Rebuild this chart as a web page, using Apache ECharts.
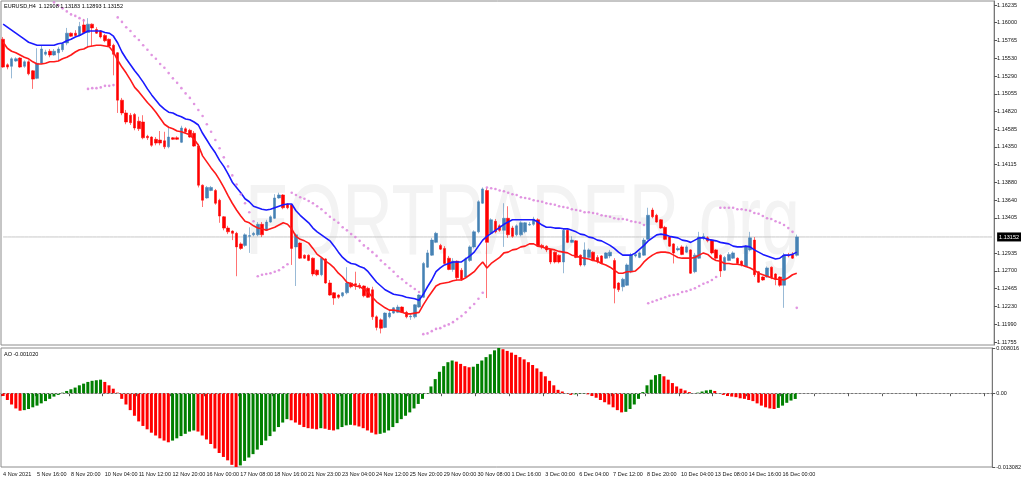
<!DOCTYPE html>
<html>
<head>
<meta charset="utf-8">
<script src="https://cdn.jsdelivr.net/npm/echarts@6.0.0/dist/echarts.min.js"></script>
<style>
html,body{margin:0;padding:0;background:#fff;}
#chart{width:1024px;height:479px;}
</style>
</head>
<body>
<div id="chart"></div>
<script>
// ---- tick labels ----
const timeLabels = ["4 Nov 2021","5 Nov 16:00","8 Nov 20:00","10 Nov 04:00","11 Nov 12:00","12 Nov 20:00","16 Nov 00:00","17 Nov 08:00","18 Nov 16:00","21 Nov 23:00","23 Nov 04:00","24 Nov 12:00","25 Nov 20:00","29 Nov 00:00","30 Nov 08:00","1 Dec 16:00","3 Dec 00:00","6 Dec 04:00","7 Dec 12:00","8 Dec 20:00","10 Dec 04:00","13 Dec 08:00","14 Dec 16:00","16 Dec 00:00"];
const priceTicks = [1.16235,1.16000,1.15765,1.15530,1.15290,1.15055,1.14820,1.14585,1.14350,1.14115,1.13880,1.13640,1.13405,1.12935,1.12700,1.12465,1.12230,1.11990,1.11755];
const aoTicks = [0.008016, 0, -0.013082];

// ---- candles (H4 EURUSD) ----
const opens = [1.1578,1.1544,1.1542,1.1549,1.1553,1.1542,1.1548,1.1536,1.1526,1.1546,1.1558,1.1562,1.1557,1.1560,1.1564,1.1573,1.1586,1.1586,1.1583,1.1597,
1.1587,1.1598,1.1591,1.1589,1.1583,1.1578,1.1570,1.1560,1.1497,1.1480,1.1477,1.1478,1.1469,1.1468,1.1449,1.1448,1.1445,1.1444,1.1443,1.1435,
1.1447,1.1447,1.1441,1.1459,1.1457,1.1453,1.1436,1.1384,1.1367,1.1377,1.1377,1.1364,1.1342,1.1327,1.1323,1.1320,1.1306,1.1304,1.1316,1.1318,
1.1318,1.1332,1.1324,1.1335,1.1340,1.1367,1.1371,1.1359,1.1358,1.1302,1.1307,1.1291,1.1291,1.1287,1.1271,1.1265,1.1286,1.1254,1.1241,1.1238,
1.1237,1.1241,1.1254,1.1253,1.1251,1.1250,1.1247,1.1245,1.1209,1.1205,1.1195,1.1209,1.1214,1.1215,1.1222,1.1215,1.1209,1.1209,1.1222,1.1235,
1.1275,1.1291,1.1308,1.1304,1.1300,1.1287,1.1272,1.1283,1.1271,1.1262,1.1284,1.1302,1.1322,1.1360,1.1377,1.1320,1.1336,1.1330,1.1324,1.1340,
1.1327,1.1318,1.1318,1.1322,1.1331,1.1332,1.1338,1.1304,1.1303,1.1298,1.1295,1.1291,1.1282,1.1324,1.1308,1.1310,1.1291,1.1278,1.1288,1.1295,
1.1288,1.1290,1.1287,1.1290,1.1284,1.1254,1.1249,1.1251,1.1269,1.1290,1.1288,1.1291,1.1312,1.1351,1.1344,1.1338,1.1328,1.1315,1.1306,1.1298,
1.1302,1.1295,1.1298,1.1269,1.1287,1.1314,1.1314,1.1311,1.1298,1.1291,1.1271,1.1284,1.1287,1.1287,1.1283,1.1276,1.1298,1.1311,1.1269,1.1262,
1.1262,1.1275,1.1266,1.1262,1.1251,1.1291,1.1292,1.12908];
const closes = [1.1541,1.1541,1.1552,1.1552,1.1541,1.1548,1.1532,1.1525,1.1546,1.1565,1.1561,1.1557,1.1562,1.1565,1.1572,1.1586,1.1582,1.1583,1.1595,1.1587,
1.1598,1.1593,1.1586,1.1581,1.1576,1.1569,1.1558,1.1497,1.1480,1.1468,1.1467,1.1460,1.1459,1.1447,1.1447,1.1437,1.1440,1.1440,1.1435,1.1448,
1.1445,1.1445,1.1460,1.1455,1.1448,1.1436,1.1384,1.1364,1.1381,1.1381,1.1360,1.1343,1.1327,1.1322,1.1320,1.1302,1.1300,1.1318,1.1317,1.1320,
1.1332,1.1318,1.1335,1.1342,1.1367,1.1371,1.1354,1.1354,1.1300,1.1318,1.1287,1.1287,1.1284,1.1266,1.1265,1.1287,1.1254,1.1238,1.1234,1.1235,
1.1241,1.1254,1.1249,1.1251,1.1249,1.1237,1.1235,1.1209,1.1195,1.1194,1.1214,1.1214,1.1221,1.1222,1.1215,1.1209,1.1210,1.1225,1.1238,1.1280,
1.1294,1.1311,1.1320,1.1299,1.1280,1.1272,1.1283,1.1261,1.1259,1.1286,1.1302,1.1322,1.1362,1.1379,1.1308,1.1338,1.1322,1.1324,1.1340,1.1318,
1.1316,1.1330,1.1334,1.1334,1.1332,1.1339,1.1303,1.1302,1.1298,1.1282,1.1282,1.1282,1.1324,1.1308,1.1311,1.1288,1.1278,1.1298,1.1298,1.1284,
1.1282,1.1280,1.1294,1.1295,1.1247,1.1245,1.1259,1.1278,1.1291,1.1292,1.1294,1.1311,1.1344,1.1342,1.1335,1.1327,1.1312,1.1303,1.1294,1.1300,
1.1292,1.1302,1.1267,1.1291,1.1315,1.1316,1.1310,1.1294,1.1287,1.1270,1.1288,1.1292,1.1294,1.1280,1.1278,1.1302,1.1314,1.1265,1.1255,1.1258,
1.1274,1.1261,1.1259,1.1251,1.1291,1.1290,1.1287,1.13152];
const lows = [1.1540,1.1538,1.1526,1.1548,1.1540,1.1540,1.1530,1.1512,1.1525,1.1545,1.1556,1.1554,1.1556,1.1549,1.1561,1.1570,1.1581,1.1582,1.1582,1.1585,
1.1568,1.1569,1.1585,1.1579,1.1574,1.1568,1.1530,1.1480,1.1477,1.1465,1.1464,1.1457,1.1456,1.1445,1.1444,1.1435,1.1437,1.1437,1.1432,1.1433,
1.1444,1.1444,1.1440,1.1453,1.1447,1.1435,1.1381,1.1355,1.1366,1.1376,1.1358,1.1334,1.1324,1.1319,1.1311,1.1263,1.1298,1.1302,1.1294,1.1316,
1.1316,1.1315,1.1323,1.1334,1.1339,1.1366,1.1352,1.1352,1.1278,1.1250,1.1286,1.1286,1.1283,1.1263,1.1263,1.1263,1.1253,1.1237,1.1225,1.1233,
1.1235,1.1239,1.1247,1.1245,1.1246,1.1235,1.1234,1.1205,1.1191,1.1187,1.1194,1.1207,1.1213,1.1214,1.1214,1.1207,1.1205,1.1207,1.1221,1.1234,
1.1274,1.1290,1.1307,1.1298,1.1279,1.1271,1.1269,1.1258,1.1257,1.1261,1.1282,1.1300,1.1320,1.1359,1.1234,1.1319,1.1320,1.1322,1.1302,1.1314,
1.1314,1.1316,1.1316,1.1320,1.1330,1.1330,1.1302,1.1299,1.1295,1.1279,1.1280,1.1280,1.1267,1.1307,1.1307,1.1287,1.1276,1.1276,1.1287,1.1283,
1.1280,1.1279,1.1286,1.1287,1.1227,1.1242,1.1243,1.1250,1.1267,1.1288,1.1287,1.1290,1.1311,1.1340,1.1334,1.1326,1.1311,1.1302,1.1280,1.1296,
1.1291,1.1294,1.1266,1.1267,1.1286,1.1311,1.1308,1.1292,1.1286,1.1262,1.1270,1.1283,1.1286,1.1279,1.1276,1.1275,1.1296,1.1262,1.1254,1.1257,
1.1261,1.1259,1.1251,1.1249,1.1221,1.1288,1.1286,1.12893];
const highs = [1.1581,1.1546,1.1554,1.1554,1.1554,1.1550,1.1550,1.1537,1.1566,1.1569,1.1564,1.1565,1.1565,1.1568,1.1574,1.1593,1.1587,1.1590,1.1601,1.1605,
1.1606,1.1599,1.1594,1.1590,1.1585,1.1579,1.1572,1.1561,1.1500,1.1484,1.1480,1.1480,1.1475,1.1477,1.1451,1.1449,1.1448,1.1456,1.1455,1.1460,
1.1448,1.1449,1.1463,1.1461,1.1459,1.1456,1.1439,1.1385,1.1383,1.1383,1.1379,1.1366,1.1343,1.1330,1.1324,1.1322,1.1308,1.1320,1.1328,1.1322,
1.1335,1.1335,1.1338,1.1344,1.1372,1.1374,1.1372,1.1360,1.1359,1.1320,1.1308,1.1292,1.1292,1.1288,1.1272,1.1288,1.1287,1.1258,1.1242,1.1239,
1.1242,1.1275,1.1255,1.1269,1.1254,1.1251,1.1249,1.1249,1.1211,1.1207,1.1215,1.1217,1.1222,1.1225,1.1223,1.1217,1.1213,1.1226,1.1239,1.1282,
1.1298,1.1314,1.1322,1.1306,1.1303,1.1290,1.1287,1.1284,1.1274,1.1288,1.1304,1.1324,1.1364,1.1381,1.1380,1.1340,1.1339,1.1332,1.1360,1.1356,
1.1330,1.1332,1.1336,1.1335,1.1335,1.1342,1.1340,1.1306,1.1304,1.1299,1.1296,1.1292,1.1327,1.1326,1.1316,1.1311,1.1292,1.1308,1.1300,1.1296,
1.1291,1.1291,1.1295,1.1298,1.1287,1.1255,1.1261,1.1280,1.1294,1.1295,1.1296,1.1314,1.1354,1.1354,1.1346,1.1339,1.1330,1.1316,1.1307,1.1303,
1.1304,1.1304,1.1299,1.1294,1.1322,1.1320,1.1316,1.1312,1.1299,1.1292,1.1290,1.1295,1.1296,1.1288,1.1284,1.1304,1.1322,1.1315,1.1270,1.1263,
1.1276,1.1276,1.1267,1.1263,1.1294,1.1294,1.1295,1.13183];

// ---- moving averages ----
const maBlue = [1.1598,1.1594,1.1590,1.1586,1.1582,1.1578,1.1574,1.1572,1.1570,1.1570,1.1570,1.1570,1.1570,1.1572,1.1573,1.1576,1.1578,1.1581,1.1583,1.1586,
1.1589,1.1589,1.1589,1.1589,1.1587,1.1586,1.1582,1.1573,1.1561,1.1552,1.1544,1.1536,1.1529,1.1521,1.1512,1.1504,1.1497,1.1490,1.1485,1.1481,
1.1480,1.1477,1.1475,1.1472,1.1471,1.1468,1.1464,1.1453,1.1444,1.1435,1.1427,1.1417,1.1409,1.1399,1.1388,1.1381,1.1374,1.1366,1.1362,1.1356,
1.1354,1.1352,1.1351,1.1352,1.1354,1.1356,1.1358,1.1359,1.1359,1.1350,1.1344,1.1339,1.1334,1.1327,1.1322,1.1318,1.1314,1.1310,1.1303,1.1295,
1.1288,1.1283,1.1280,1.1279,1.1276,1.1274,1.1269,1.1262,1.1255,1.1250,1.1245,1.1242,1.1239,1.1238,1.1237,1.1235,1.1234,1.1233,1.1231,1.1239,
1.1249,1.1258,1.1269,1.1274,1.1278,1.1280,1.1282,1.1282,1.1282,1.1286,1.1290,1.1295,1.1303,1.1311,1.1316,1.1320,1.1324,1.1328,1.1332,1.1335,
1.1338,1.1338,1.1338,1.1338,1.1338,1.1338,1.1335,1.1331,1.1328,1.1328,1.1327,1.1327,1.1326,1.1326,1.1324,1.1322,1.1319,1.1318,1.1315,1.1314,
1.1311,1.1310,1.1307,1.1304,1.1300,1.1295,1.1291,1.1291,1.1291,1.1294,1.1299,1.1304,1.1310,1.1314,1.1318,1.1319,1.1318,1.1316,1.1315,1.1314,
1.1311,1.1310,1.1308,1.1311,1.1314,1.1314,1.1312,1.1311,1.1310,1.1308,1.1307,1.1306,1.1303,1.1302,1.1302,1.1303,1.1302,1.1298,1.1295,1.1292,
1.1290,1.1288,1.1286,1.1287,1.1291,1.1291,1.1292,1.1295];
const maRed = [1.1574,1.1566,1.1562,1.1560,1.1557,1.1554,1.1552,1.1548,1.1545,1.1545,1.1546,1.1548,1.1548,1.1549,1.1552,1.1554,1.1557,1.1561,1.1564,1.1565,
1.1568,1.1569,1.1570,1.1570,1.1569,1.1568,1.1561,1.1550,1.1541,1.1533,1.1524,1.1514,1.1508,1.1501,1.1494,1.1488,1.1481,1.1473,1.1465,1.1461,
1.1459,1.1456,1.1455,1.1453,1.1451,1.1445,1.1437,1.1423,1.1415,1.1407,1.1400,1.1391,1.1381,1.1370,1.1360,1.1351,1.1343,1.1336,1.1334,1.1330,
1.1327,1.1326,1.1324,1.1326,1.1328,1.1331,1.1334,1.1332,1.1326,1.1316,1.1312,1.1310,1.1307,1.1300,1.1292,1.1288,1.1283,1.1279,1.1274,1.1267,
1.1262,1.1255,1.1253,1.1250,1.1249,1.1246,1.1242,1.1235,1.1229,1.1225,1.1221,1.1218,1.1218,1.1217,1.1215,1.1213,1.1213,1.1214,1.1215,1.1225,
1.1234,1.1242,1.1250,1.1253,1.1254,1.1255,1.1257,1.1258,1.1258,1.1261,1.1265,1.1269,1.1276,1.1282,1.1274,1.1280,1.1284,1.1288,1.1294,1.1295,
1.1298,1.1299,1.1302,1.1303,1.1306,1.1306,1.1303,1.1302,1.1300,1.1299,1.1298,1.1296,1.1295,1.1294,1.1291,1.1290,1.1288,1.1287,1.1286,1.1284,
1.1283,1.1280,1.1278,1.1275,1.1271,1.1267,1.1267,1.1269,1.1269,1.1270,1.1275,1.1282,1.1287,1.1291,1.1294,1.1295,1.1295,1.1294,1.1291,1.1288,
1.1287,1.1287,1.1287,1.1288,1.1291,1.1294,1.1292,1.1287,1.1284,1.1283,1.1280,1.1280,1.1279,1.1279,1.1278,1.1276,1.1274,1.1271,1.1267,1.1265,
1.1263,1.1261,1.1259,1.1259,1.1258,1.1261,1.1265,1.1267];

// ---- parabolic SAR (null = not drawn) ----
const sar = [null,null,null,null,null,null,null,null,null,null,null,null,1.1627,1.1623,1.1619,1.1615,1.1611,1.1609,1.1606,1.1603,
1.1512,1.1513,1.1513,1.1514,1.1516,1.1516,1.1517,1.1607,1.1601,1.1594,1.1589,1.1582,1.1577,1.1570,1.1564,1.1557,1.1552,1.1545,1.1540,1.1533,
1.1526,1.1520,1.1513,1.1506,1.1500,1.1492,1.1484,1.1476,1.1465,1.1455,1.1444,1.1433,1.1421,1.1409,1.1397,1.1385,1.1372,1.1360,1.1348,1.1336,
1.1263,1.1265,1.1266,1.1267,1.1269,1.1271,1.1275,1.1279,1.1374,1.1371,1.1368,1.1366,1.1363,1.1360,1.1356,1.1352,1.1347,1.1342,1.1338,1.1334,
1.1328,1.1324,1.1319,1.1315,1.1310,1.1304,1.1300,1.1295,1.1290,1.1284,1.1279,1.1274,1.1269,1.1263,1.1259,1.1254,1.1250,1.1246,1.1242,1.1186,
1.1187,1.1190,1.1193,1.1194,1.1197,1.1199,1.1202,1.1206,1.1210,1.1215,1.1221,1.1226,1.1233,1.1241,1.1381,1.1380,1.1379,1.1377,1.1376,1.1374,
1.1372,1.1371,1.1368,1.1367,1.1366,1.1364,1.1363,1.1362,1.1360,1.1359,1.1358,1.1356,1.1355,1.1354,1.1352,1.1351,1.1350,1.1348,1.1348,1.1347,
1.1346,1.1344,1.1343,1.1342,1.1340,1.1339,1.1339,1.1338,1.1336,1.1335,1.1334,1.1331,1.1227,1.1229,1.1231,1.1233,1.1235,1.1237,1.1238,1.1239,
1.1242,1.1243,1.1245,1.1247,1.1250,1.1253,1.1255,1.1258,1.1262,1.1354,1.1354,1.1354,1.1354,1.1352,1.1352,1.1351,1.1350,1.1347,1.1346,1.1343,
1.1340,1.1339,1.1336,1.1334,1.1331,1.1327,1.1322,1.1221];

// ---- Awesome Oscillator ----
const ao = [-0.0005,-0.0012,-0.0020,-0.0027,-0.0031,-0.0030,-0.0028,-0.0025,-0.0022,-0.0018,-0.0014,-0.0010,-0.0006,-0.0003,0.0001,0.0004,0.0007,0.0010,0.0014,0.0017,
0.0020,0.0022,0.0023,0.0024,0.0020,0.0014,0.0008,0.0001,-0.0010,-0.0020,-0.0030,-0.0040,-0.0050,-0.0058,-0.0064,-0.0070,-0.0075,-0.0080,-0.0084,-0.0087,
-0.0084,-0.0080,-0.0076,-0.0072,-0.0068,-0.0066,-0.0068,-0.0075,-0.0082,-0.0090,-0.0098,-0.0106,-0.0113,-0.0119,-0.0127,-0.013082,-0.0128,-0.0120,-0.0114,-0.0108,
-0.0100,-0.0092,-0.0084,-0.0076,-0.0068,-0.0060,-0.0052,-0.0046,-0.0048,-0.0052,-0.0056,-0.0060,-0.0062,-0.0063,-0.0064,-0.0062,-0.0063,-0.0065,-0.0066,-0.0064,
-0.0060,-0.0057,-0.0056,-0.0057,-0.0059,-0.0062,-0.0066,-0.0070,-0.0073,-0.0072,-0.0070,-0.0066,-0.0060,-0.0053,-0.0046,-0.0040,-0.0034,-0.0027,-0.0019,-0.0010,
-0.0001,0.0012,0.0025,0.0038,0.0048,0.0055,0.0058,0.0056,0.0052,0.0048,0.0046,0.0047,0.0052,0.0058,0.0064,0.0069,0.0076,0.008016,0.0078,0.0075,
0.0072,0.0068,0.0064,0.0060,0.0055,0.0050,0.0044,0.0038,0.0030,0.0022,0.0014,0.0006,0.0003,-0.0001,-0.0003,-0.0002,-0.0001,-0.00005,-0.0002,-0.0005,
-0.0008,-0.0012,-0.0016,-0.0020,-0.0025,-0.0030,-0.0034,-0.0033,-0.0028,-0.0020,-0.0010,0.0002,0.0014,0.0024,0.0032,0.0034,0.0030,0.0024,0.0018,0.0012,
0.0008,0.0005,0.0002,0.0000,0.0001,0.0003,0.0005,0.0006,0.0004,0.0000,-0.0003,-0.0005,-0.0006,-0.0007,-0.0009,-0.0010,-0.0012,-0.0014,-0.0018,-0.0022,
-0.0025,-0.0027,-0.0028,-0.0026,-0.0022,-0.0017,-0.0013,-0.00102];

const symbol = 'EURUSD,H4';
const TOTAL_SLOTS = 234; // chart shift: empty space to the right
const cats = Array.from({length: TOTAL_SLOTS}, (_, i) => String(i));
const n = opens.length;
const candleData = opens.map((o, i) => [o, closes[i], lows[i], highs[i]]);
const last = n - 1;
const lastClose = closes[last];
const bidLine = cats.map(() => lastClose); // horizontal current-price line
const FONT = '"Liberation Sans", Arial, sans-serif';

const chart = echarts.init(document.getElementById('chart'), null, {renderer: 'canvas'});
const lblStyle = {fontSize: 5.5, color: '#111', fontFamily: FONT};

chart.setOption({
  animation: false,
  backgroundColor: '#ffffff',
  grid: [
    {left: 1, right: 27, top: 1, height: 344, show: true, borderColor: '#8c8c8c', borderWidth: 1, backgroundColor: 'transparent'},
    {left: 1, right: 27, top: 348, height: 119, show: true, borderColor: '#8c8c8c', borderWidth: 1, backgroundColor: 'transparent'}
  ],
  xAxis: [
    {type: 'category', gridIndex: 0, data: cats, boundaryGap: true, show: false},
    {type: 'category', gridIndex: 1, data: cats, boundaryGap: true,
     axisLine: {show: true, lineStyle: {color: '#777'}},
     axisTick: {show: true, interval: 7, alignWithLabel: false, length: 3, lineStyle: {color: '#555'}},
     axisLabel: Object.assign({interval: 7, align: 'left', margin: 4,
       formatter: (v, idx) => (idx % 8 === 0 && timeLabels[idx / 8]) ? timeLabels[idx / 8] : ''}, lblStyle),
     splitLine: {show: false}}
  ],
  yAxis: [
    {type: 'value', gridIndex: 0, position: 'right', min: 1.11716, max: 1.16288,
     axisLine: {show: true, lineStyle: {color: '#777'}},
     axisTick: {show: true, length: 3, customValues: priceTicks, lineStyle: {color: '#555'}},
     axisLabel: Object.assign({margin: 3, customValues: priceTicks.concat([lastClose]),
       formatter: v => Math.abs(v - lastClose) < 1e-9 ? '{tag|' + v.toFixed(5) + '}' : v.toFixed(5),
       rich: {tag: {backgroundColor: '#000', color: '#fff', fontSize: 5.5, fontFamily: FONT, padding: [2, 2, 1, 2]}}}, lblStyle),
     splitLine: {show: false}},
    {type: 'value', gridIndex: 1, position: 'right', min: aoTicks[2], max: aoTicks[0],
     axisLine: {show: true, lineStyle: {color: '#777'}},
     axisTick: {show: true, length: 3, customValues: aoTicks, lineStyle: {color: '#555'}},
     axisLabel: Object.assign({margin: 4, customValues: aoTicks, formatter: v => v === 0 ? '0.00' : v.toFixed(6)}, lblStyle),
     splitLine: {show: false}}
  ],
  graphic: [
    {type: 'text', left: 245, top: 176, z: 0, scaleX: 0.7,
     style: {text: 'FORTRADER.org', fontSize: 100, fontFamily: FONT, fill: '#f3f3f3'}},
    {type: 'text', left: 4, top: 3, z: 10,
     style: {text: symbol + '  ' + opens[last].toFixed(5) + ' ' + highs[last].toFixed(5) + ' ' + lows[last].toFixed(5) + ' ' + closes[last].toFixed(5),
             fontSize: 5.5, fontFamily: FONT, fill: '#000'}},
    {type: 'text', left: 4, top: 351, z: 10,
     style: {text: 'AO ' + ao[last].toFixed(6), fontSize: 5.5, fontFamily: FONT, fill: '#000'}}
  ],
  series: [
    {type: 'line', name: 'Bid', xAxisIndex: 0, yAxisIndex: 0, data: bidLine, showSymbol: false, silent: true,
     lineStyle: {color: '#c8c8c8', width: 1}, z: 1},
    {type: 'candlestick', name: 'EURUSD', xAxisIndex: 0, yAxisIndex: 0, data: candleData, barWidth: 3,
     itemStyle: {color: '#4682B4', color0: '#FF0000', borderColor: 'rgba(70,130,180,0.55)', borderColor0: 'rgba(255,0,0,0.55)', borderWidth: 1}},
    {type: 'line', name: 'MA1', xAxisIndex: 0, yAxisIndex: 0, data: maBlue, showSymbol: false,
     lineStyle: {color: '#1a1aff', width: 1.6}, z: 4},
    {type: 'line', name: 'MA2', xAxisIndex: 0, yAxisIndex: 0, data: maRed, showSymbol: false,
     lineStyle: {color: '#ff1a1a', width: 1.6}, z: 4},
    {type: 'scatter', name: 'SAR', xAxisIndex: 0, yAxisIndex: 0, data: sar.map(v => v === null ? '-' : v),
     symbol: 'circle', symbolSize: 2.6, itemStyle: {color: '#d97ad9'}, z: 5},
    {type: 'bar', name: 'AO', xAxisIndex: 1, yAxisIndex: 1, data: ao, barWidth: 3,
     itemStyle: {color: p => (p.dataIndex > 0 && ao[p.dataIndex] > ao[p.dataIndex - 1]) ? '#008000' : '#ff0000'},
     markLine: {silent: true, symbol: ['none', 'none'], label: {show: false},
       lineStyle: {color: '#b4b4b4', width: 1, type: [2, 2]}, data: [{yAxis: 0}]}}
  ]
});
</script>
</body>
</html>
